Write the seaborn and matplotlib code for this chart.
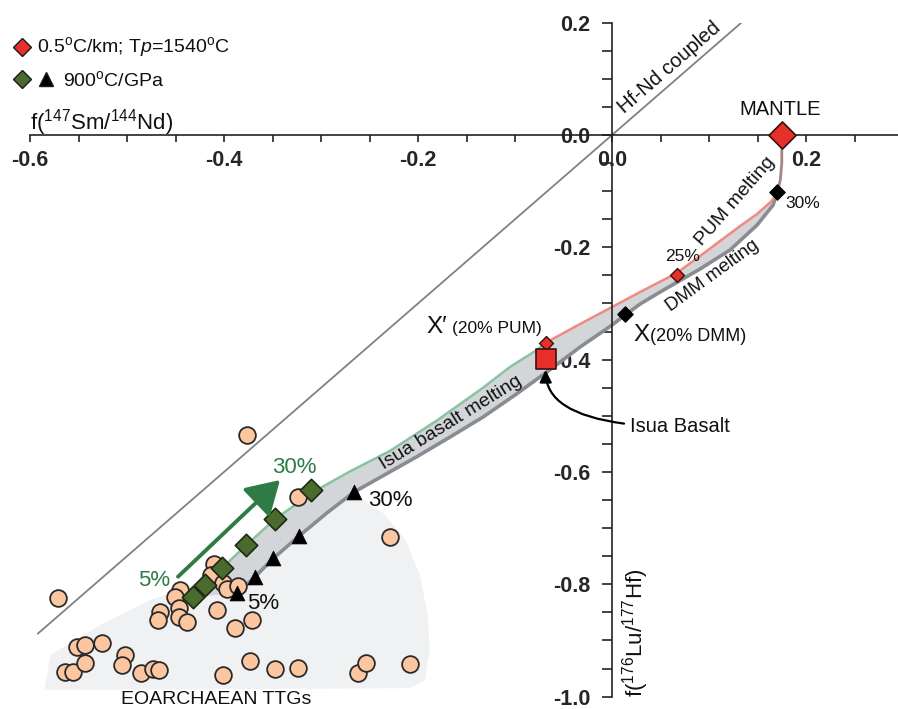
import matplotlib
matplotlib.use("Agg")
import matplotlib.pyplot as plt
from matplotlib.lines import Line2D
from matplotlib.ticker import FixedLocator, FixedFormatter
import numpy as np
import pandas as pd
import seaborn as sns

# ---------------- data ----------------
# Hf-Nd coupled reference line
hfnd_x = [-0.592, 0.1333]
hfnd_y = [-0.888, 0.200]

# mantle source and the common melting trunk down to 30 % melting
mantle_x = [0.175]
mantle_y = [0.0]
trunk_x = [0.175, 0.175, 0.1735, 0.1704]
trunk_y = [0.0, -0.05, -0.08, -0.102]

# PUM melting curve (upper edge of band)
pum_x = [0.1704, 0.1646, 0.1495, 0.1320, 0.1113, 0.0907, 0.0667, 0.0289, 0.0, -0.0330, -0.0684]
pum_y = [-0.102, -0.1175, -0.1407, -0.1621, -0.1888, -0.2155, -0.2458, -0.2796, -0.3063, -0.3366, -0.3699]

# DMM melting curve (lower edge of band)
dmm_x = [0.1704, 0.1660, 0.1495, 0.1216, 0.0907, 0.0495, 0.0289, 0.0134, 0.0, -0.0330, -0.0673]
dmm_y = [-0.102, -0.1247, -0.1603, -0.2048, -0.2386, -0.2796, -0.3010, -0.3206, -0.3384, -0.3776, -0.4221]

# Isua basalt melting: upper (green) and lower (grey) edges
isua_up_x = [-0.0684, -0.0776, -0.1052, -0.1330, -0.1807, -0.2289, -0.2701, -0.3044,
             -0.3471, -0.3773, -0.4024, -0.4196, -0.4323]
isua_up_y = [-0.3699, -0.3829, -0.4130, -0.4500, -0.5085, -0.5625, -0.5990, -0.6322,
             -0.6834, -0.7307, -0.7717, -0.8014, -0.8223]
isua_lo_x = [-0.0673, -0.1000, -0.1330, -0.1670, -0.2013, -0.2495, -0.2660, -0.2941,
             -0.3227, -0.3492, -0.3680, -0.3863]
isua_lo_y = [-0.4221, -0.4630, -0.5022, -0.5378, -0.5729, -0.6198, -0.6358, -0.6732,
             -0.7142, -0.7539, -0.7866, -0.8162]

# Eoarchaean TTG field outline
field_x = [-0.585, -0.579, -0.528, -0.476, -0.430, -0.384, -0.322, -0.265,
           -0.236, -0.213, -0.198, -0.190, -0.188, -0.193, -0.208]
field_y = [-0.988, -0.926, -0.873, -0.828, -0.801, -0.775, -0.703, -0.641,
           -0.673, -0.721, -0.784, -0.855, -0.917, -0.971, -0.985]

# model points
red_dia_x = [0.0667, -0.0684]          # 25 % PUM, X' (20 % PUM)
red_dia_y = [-0.249, -0.370]
blk_dia_x = [0.1704, 0.0137]           # 30 % DMM, X (20 % DMM)
blk_dia_y = [-0.102, -0.3193]
isua_basalt_x = [-0.0684]
isua_basalt_y = [-0.398]
green_dia_x = [-0.4323, -0.4196, -0.4024, -0.3773, -0.3471, -0.3106]   # 5 % ... 30 %
green_dia_y = [-0.8223, -0.8014, -0.7717, -0.7307, -0.6834, -0.6322]
tri_x = [-0.3863, -0.3680, -0.3492, -0.3227, -0.2660]                   # 5 % ... 30 %
tri_y = [-0.8162, -0.7866, -0.7539, -0.7142, -0.6358]

# Eoarchaean TTG compositions
ttg_x = [-0.3766, -0.5708, -0.3234, -0.2289, -0.4103, -0.4137, -0.4007, -0.3966, -0.3853,
         -0.4454, -0.4505, -0.4461, -0.4461, -0.4378, -0.4660, -0.4677, -0.4075, -0.3887,
         -0.3714, -0.5639, -0.5554, -0.5433, -0.5519, -0.5433, -0.5261, -0.5021, -0.5055,
         -0.4856, -0.4729, -0.4667, -0.4013, -0.3732, -0.3474, -0.3234, -0.2615, -0.2536,
         -0.2082]
ttg_y = [-0.5343, -0.8251, -0.6442, -0.7164, -0.7640, -0.7836, -0.7973, -0.8091, -0.8032,
         -0.8103, -0.8233, -0.8429, -0.8579, -0.8668, -0.8490, -0.8638, -0.8459, -0.8785,
         -0.8638, -0.9558, -0.9558, -0.9409, -0.9113, -0.9083, -0.9053, -0.9261, -0.9439,
         -0.9576, -0.9516, -0.9528, -0.9617, -0.9362, -0.9516, -0.9498, -0.9576, -0.9409,
         -0.9421]

# melting-degree arrow (5 % -> 30 %)
arrow_start = (-0.4474, -0.7865)
arrow_end = (-0.3423, -0.6144)

x_ticks = [-0.6, -0.4, -0.2, 0.0, 0.2]
x_ticklabels = ["-0.6", "-0.4", "-0.2", "0.0", "0.2"]
y_ticks = [-1.0, -0.8, -0.6, -0.4, -0.2, 0.0, 0.2]
y_ticklabels = ["-1.0", "-0.8", "-0.6", "-0.4", "-0.2", "0.0", "0.2"]

# ---------------- style ----------------
sns.set_theme(style="white")
plt.rcParams["font.family"] = ["Liberation Sans", "DejaVu Sans"]
plt.rcParams["mathtext.fontset"] = "custom"
plt.rcParams["mathtext.rm"] = "Liberation Sans"
plt.rcParams["mathtext.it"] = "Liberation Sans:italic"
plt.rcParams["mathtext.bf"] = "Liberation Sans:bold"

RED = "#e8302a"
GREEN_MK = "#4b6a2e"
GREEN_TX = "#2e7b45"
PEACH = "#fcc7a0"
BAND = "#d3d5d9"
FIELD = "#f0f1f2"
GREY_LINE = "#898c91"

W, H = 898, 709
fig = plt.figure(figsize=(W / 100, H / 100), dpi=100)
ax = fig.add_axes([30 / W, 12.4 / H, 868 / W, 673.9 / H])
ax.set_xlim(-0.6, 0.2948)
ax.set_ylim(-1.0, 0.2)

# centred axes through the origin
for s in ("top", "right"):
    ax.spines[s].set_visible(False)
ax.spines["left"].set_position(("data", 0))
ax.spines["bottom"].set_position(("data", 0))
for s in ("left", "bottom"):
    ax.spines[s].set_linewidth(1.2)
    ax.spines[s].set_color("#222222")

ax.xaxis.set_major_locator(FixedLocator(x_ticks))
ax.xaxis.set_major_formatter(FixedFormatter(x_ticklabels))
ax.xaxis.set_minor_locator(FixedLocator(np.arange(-0.6, 0.26, 0.05)))
ax.yaxis.set_major_locator(FixedLocator(y_ticks))
ax.yaxis.set_major_formatter(FixedFormatter(y_ticklabels))
ax.yaxis.set_minor_locator(FixedLocator(np.arange(-1.0, 0.21, 0.05)))
ax.tick_params(axis="x", which="both", direction="out", length=5, width=1.2,
               color="#222222", bottom=True, labelsize=15.5, pad=5.5)
ax.tick_params(axis="y", which="both", direction="out", length=7, width=1.2,
               color="#222222", left=True, labelsize=15.5, pad=8.5)
for lab in ax.get_xticklabels() + ax.get_yticklabels():
    lab.set_fontweight("bold")
ax.grid(False)

# TTG field and melting bands
ax.fill(field_x, field_y, color=FIELD, lw=0, zorder=0.5)
ax.fill(pum_x + isua_up_x[1:] + isua_lo_x[::-1] + dmm_x[::-1],
        pum_y + isua_up_y[1:] + isua_lo_y[::-1] + dmm_y[::-1],
        color=BAND, lw=0, zorder=1)

# lines
sns.lineplot(x=hfnd_x, y=hfnd_y, sort=False, estimator=None, color="#7f8185", lw=1.3, ax=ax, zorder=1.5)
sns.lineplot(x=trunk_x, y=trunk_y, sort=False, estimator=None, color="#a38686", lw=2.0, ax=ax, zorder=2)
sns.lineplot(x=dmm_x, y=dmm_y, sort=False, estimator=None, color=GREY_LINE, lw=2.6, ax=ax, zorder=2)
sns.lineplot(x=isua_lo_x, y=isua_lo_y, sort=False, estimator=None, color=GREY_LINE, lw=2.6, ax=ax, zorder=2)
sns.lineplot(x=pum_x, y=pum_y, sort=False, estimator=None, color="#f08a80", lw=1.8, ax=ax, zorder=2.1)
sns.lineplot(x=isua_up_x, y=isua_up_y, sort=False, estimator=None, color="#88c4a0", lw=1.8, ax=ax, zorder=2.1)

# TTG data
sns.scatterplot(x=ttg_x, y=ttg_y, marker="o", s=145, color=PEACH, edgecolor="#2a2a2a",
                linewidth=1.3, ax=ax, zorder=4)

# model markers
sns.scatterplot(x=green_dia_x, y=green_dia_y, marker="D", s=130, color=GREEN_MK,
                edgecolor="#1d2a12", linewidth=1.2, ax=ax, zorder=5)
sns.scatterplot(x=tri_x, y=tri_y, marker="^", s=115, color="black", edgecolor="black",
                linewidth=0.5, ax=ax, zorder=5)
sns.scatterplot(x=mantle_x, y=mantle_y, marker="D", s=190, color=RED, edgecolor="#3a1010",
                linewidth=1.2, ax=ax, zorder=5, clip_on=False)
sns.scatterplot(x=red_dia_x, y=red_dia_y, marker="D", s=50, color=RED, edgecolor="#3a1010",
                linewidth=1.0, ax=ax, zorder=5)
sns.scatterplot(x=blk_dia_x, y=blk_dia_y, marker="D", s=62, color="black", edgecolor="black",
                linewidth=0.8, ax=ax, zorder=5)
sns.scatterplot(x=isua_basalt_x, y=isua_basalt_y, marker="s", s=190, color=RED,
                edgecolor="#3a1010", linewidth=1.2, ax=ax, zorder=5)

# arrows
ax.annotate("", xy=arrow_end, xytext=arrow_start,
            arrowprops=dict(arrowstyle="-|>,head_length=1.0,head_width=0.6", color=GREEN_TX,
                            lw=2.8, mutation_scale=20, shrinkA=0, shrinkB=0), zorder=6)
ax.annotate("Isua Basalt", xy=(isua_basalt_x[0], -0.4185), xytext=(0.0186, -0.5195),
            ha="left", va="center", fontsize=14.5, color="#111111",
            arrowprops=dict(arrowstyle="-|>,head_length=0.6,head_width=0.3", color="black",
                            lw=1.6, mutation_scale=12, shrinkA=2, shrinkB=0,
                            connectionstyle="angle3,angleA=0,angleB=90"), zorder=6)

# labels along curves
txt = dict(color="#111111", rotation_mode="anchor", ha="center", va="center")
ax.text(0.0588, 0.1202, "Hf-Nd coupled", fontsize=14.5, rotation=41, **txt)
ax.text(0.1268, -0.1188, "PUM melting", fontsize=14, rotation=49, **txt)
ax.text(0.1040, -0.2500, "DMM melting", fontsize=13.5, rotation=36, **txt)
ax.text(-0.166, -0.5120, "Isua basalt melting", fontsize=14, rotation=31.8, **txt)

ax.text(0.1732, 0.0463, "MANTLE", fontsize=14.5, ha="center", va="center", color="#111111")
ax.text(0.1964, -0.1216, "30%", fontsize=12.5, ha="center", va="center", color="#111111")
ax.text(0.0727, -0.2155, "25%", fontsize=12.5, ha="center", va="center", color="#111111")
ax.text(-0.1909, -0.3526, "X\u2032", fontsize=17.5, ha="left", va="baseline", color="#111111")
ax.text(-0.1653, -0.3526, "(20% PUM)", fontsize=12.5, ha="left", va="baseline", color="#111111")
ax.text(0.0217, -0.3669, "X", fontsize=17.5, ha="left", va="baseline", color="#111111")
ax.text(0.0392, -0.3669, "(20% DMM)", fontsize=13, ha="left", va="baseline", color="#111111")

ax.text(-0.3278, -0.5913, "30%", fontsize=16, ha="center", va="center", color=GREEN_TX)
ax.text(-0.4722, -0.7925, "5%", fontsize=16, ha="center", va="center", color=GREEN_TX)
ax.text(-0.2289, -0.6513, "30%", fontsize=16, ha="center", va="center", color="#111111")
ax.text(-0.3598, -0.8335, "5%", fontsize=16, ha="center", va="center", color="#111111")
ax.text(-0.4076, -1.006, "EOARCHAEAN TTGs", fontsize=14, ha="center", va="center", color="#111111")

# axis titles
ax.text(-0.6, 0.010, r"f($^{147}$Sm/$^{144}$Nd)", fontsize=16, ha="left", va="baseline",
        color="#111111")
ax.text(0.0247, -1.0, r"f($^{176}$Lu/$^{177}$Hf)", fontsize=16, rotation=90,
        ha="center", va="bottom", color="#111111")

# key
def fpos(px, py):
    return px / W, 1 - py / H

for (px, py), mk, fc, ms in [((22, 47), "D", RED, 9.5), ((22, 79), "D", GREEN_MK, 9.5),
                             ((46, 79), "^", "black", 10.5)]:
    fx, fy = fpos(px, py)
    fig.add_artist(Line2D([fx], [fy], marker=mk, markersize=ms, markerfacecolor=fc,
                          markeredgecolor="#1a1a1a", markeredgewidth=1.0, ls="none",
                          transform=fig.transFigure))
fx, fy = fpos(36.7, 47)
fig.text(fx, fy, r"0.5$^{\mathrm{o}}$C/km; T$\mathit{p}$=1540$^{\mathrm{o}}$C", fontsize=14,
         ha="left", va="center", color="#111111")
fx, fy = fpos(63, 80)
fig.text(fx, fy, r"900$^{\mathrm{o}}$C/GPa", fontsize=14, ha="left", va="center", color="#111111")

fig.savefig("out.png", dpi=100)
